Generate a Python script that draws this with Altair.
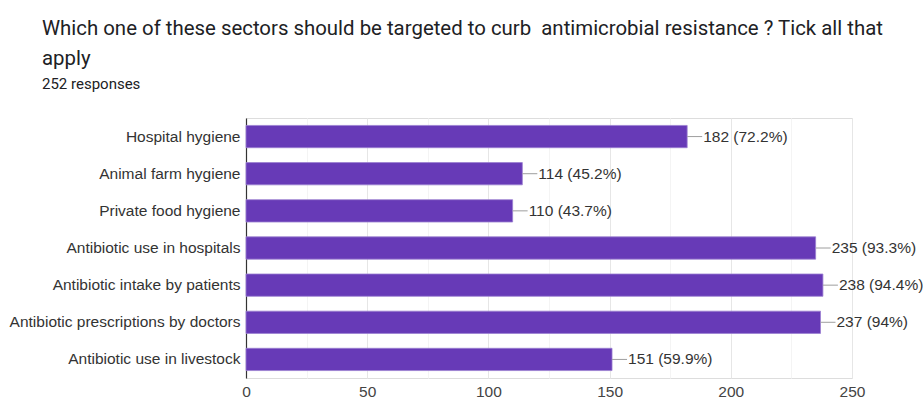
import altair as alt
import pandas as pd

categories = [
    "Hospital hygiene",
    "Animal farm hygiene",
    "Private food hygiene",
    "Antibiotic use in hospitals",
    "Antibiotic intake by patients",
    "Antibiotic prescriptions by doctors",
    "Antibiotic use in livestock",
]
counts = [182, 114, 110, 235, 238, 237, 151]
percents = ["72.2%", "45.2%", "43.7%", "93.3%", "94.4%", "94%", "59.9%"]
x_ticks = [0, 25, 50, 75, 100, 125, 150, 175, 200, 225, 250]

df = pd.DataFrame({
    "cat": categories,
    "count": counts,
    "label": [f"{c} ({p})" for c, p in zip(counts, percents)],
})

LABEL_FONT = "Liberation Sans"
FS = 15.5

x_enc = alt.X(
    "count:Q",
    scale=alt.Scale(domain=[0, 250], nice=False),
    axis=alt.Axis(
        title=None,
        values=x_ticks,
        labelExpr="datum.value % 50 === 0 ? datum.label : ''",
        labelFont=LABEL_FONT,
        labelFontSize=FS,
        labelColor="#444444",
        labelPadding=6,
        labelFlush=False,
        ticks=False,
        domain=False,
        grid=True,
        gridColor={"condition": {"test": "datum.value % 50 === 0", "value": "#e6e6e6"}, "value": "#f4f4f4"},
    ),
)
y_enc = alt.Y(
    "cat:N",
    sort=categories,
    scale=alt.Scale(paddingInner=0.4, paddingOuter=0.2),
    axis=alt.Axis(
        title=None,
        labelFont=LABEL_FONT,
        labelFontSize=FS,
        labelColor="#333333",
        labelPadding=6,
        labelLimit=0,
        ticks=False,
        domain=True,
        domainColor="#333333",
        domainWidth=1.2,
        grid=False,
    ),
)

bars = alt.Chart(df).mark_bar(color="#673ab7", stroke="#9a7fd1", strokeWidth=0.8).encode(x=x_enc, y=y_enc)

leaders = alt.Chart(df).mark_rule(color="#9e9e9e", strokeWidth=1, x2Offset=15).encode(
    x="count:Q", x2="count:Q", y=alt.Y("cat:N", sort=categories)
)

texts = alt.Chart(df).mark_text(
    align="left", baseline="middle", dx=16, font=LABEL_FONT, fontSize=FS, color="#333333"
).encode(x="count:Q", y=alt.Y("cat:N", sort=categories), text="label:N")

chart = alt.layer(bars, leaders, texts).properties(
    width=606,
    height=260,
    autosize=alt.AutoSizeParams(type="none"),
    padding={"left": 246, "top": 118, "right": 71, "bottom": 23},
    title=alt.TitleParams(
        text=["Which one of these sectors should be targeted to curb\u00a0 antimicrobial resistance ? Tick all that", "apply"],
        subtitle="252 responses",
        anchor="start",
        frame="group",
        dx=-204,
        offset=26,
        font="Roboto",
        fontSize=20.4,
        fontWeight="normal",
        color="#202124",
        lineHeight=30,
        subtitleFont="Roboto",
        subtitleFontSize=15,
        subtitleColor="#202124",
        subtitlePadding=8,
    ),
).configure_view(stroke="#e8e8e8").configure(background="white")

chart.save("out.html", embed_options={"renderer": "svg", "actions": False})
